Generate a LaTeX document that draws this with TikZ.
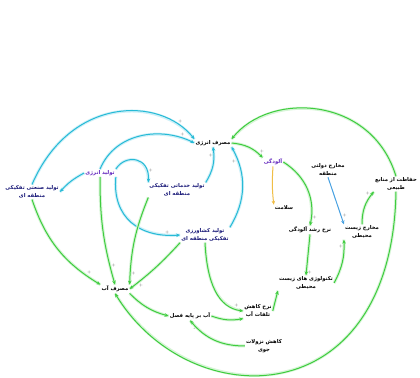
\documentclass[tikz,border=0pt]{standalone}
\usepackage{fontspec}
\usepackage{xcolor}
\usetikzlibrary{arrows.meta}
\newfontfamily\arabicfont[Script=Arabic]{DejaVu Sans}
\TeXXeTstate=1
\newcommand{\fa}[1]{{\arabicfont\beginR #1\endR}}
\definecolor{cyanln}{RGB}{38,186,214}
\definecolor{cyanhalo}{RGB}{205,240,248}
\definecolor{greenln}{RGB}{62,204,62}
\definecolor{greenhalo}{RGB}{214,245,214}
\definecolor{blueln}{RGB}{70,160,225}
\definecolor{orangeln}{RGB}{240,190,70}
\definecolor{navyt}{RGB}{25,25,120}
\definecolor{purplet}{RGB}{100,40,190}
\begin{document}
\begin{tikzpicture}[x=1bp,y=1bp,
  lbl/.style={font=\fontsize{5.3}{8}\selectfont\bfseries,align=center,inner sep=1pt},
  sgn/.style={pos=0.86,auto,font=\fontsize{4}{4}\selectfont,inner sep=0.5pt,text=black!70},
  cy/.style={draw=cyanln,line width=1bp,-{Stealth[length=4bp,width=3.5bp]},
    preaction={draw=cyanhalo,line width=3bp,-}},
  gr/.style={draw=greenln,line width=1bp,-{Stealth[length=4bp,width=3.5bp]},
    preaction={draw=greenhalo,line width=3bp,-}},
  bl/.style={draw=blueln,line width=1bp,-{Stealth[length=4bp,width=3.5bp]}},
  og/.style={draw=orangeln,line width=1bp,-{Stealth[length=4bp,width=3.5bp]}}]
\useasboundingbox[fill=white] (0,0) rectangle (420,378);
\draw (32,186) node[lbl,text=navyt](ind) {\fa{تولید صنعتی تفکیکی}\\\fa{منطقه ای}};
\draw (100,205) node[lbl,text=purplet](ep) {\fa{تولید انرژی}};
\draw (213,235) node[lbl](ec) {\fa{مصرف انرژی}};
\draw (177,188) node[lbl,text=navyt](srv) {\fa{تولید خدماتی تفکیکی}\\\fa{منطقه ای}};
\draw (205,143) node[lbl,text=navyt](agr) {\fa{تولید کشاورزی}\\\fa{تفکیکی منطقه ای}};
\draw (273,216) node[lbl,text=purplet](pol) {\fa{آلودگی}};
\draw (284,170) node[lbl](hlth) {\fa{سلامت}};
\draw (328,208) node[lbl](gov) {\fa{مخارج دولتی}\\\fa{منطقه}};
\draw (396,194) node[lbl](prot) {\fa{حفاظت از منابع}\\\fa{طبیعی}};
\draw (310,148) node[lbl](pgr) {\fa{نرخ رشد آلودگی}};
\draw (362,146) node[lbl](envx) {\fa{مخارج زیست}\\\fa{محیطی}};
\draw (306,95) node[lbl](tech) {\fa{تکنولوژی های زیست}\\\fa{محیطی}};
\draw (258,67) node[lbl](wlr) {\fa{نرخ کاهش}\\\fa{تلفات آب}};
\draw (264,32) node[lbl](prec) {\fa{کاهش نزولات}\\\fa{جوی}};
\draw (115,89) node[lbl](wc) {\fa{مصرف آب}};
\draw (190,62) node[lbl](sw) {\fa{آب بر پایه فصل}};
\draw[cy] (ind.north) .. controls (70,282) and (160,282) .. (ec.north west) node[sgn]{+};
\draw[cy] (ep.north) .. controls (115,245) and (160,252) .. (ec.west) node[sgn]{+};
\draw[cy] (ep.north east) .. controls (125,224) and (150,222) .. (srv.north west) node[sgn]{+};
\draw[cy] (ep.west) to[bend right=10] (ind.east);
\draw[cy] (ep.south east) .. controls (112,160) and (140,140) .. (agr.west) node[sgn]{+};
\draw[cy] (srv.north east) to[bend right=20] node[sgn]{+} (ec.south);
\draw[cy] (agr.north east) to[bend right=30] node[sgn]{+} (ec.south east);
\draw[gr] (prot.north) .. controls (372,282) and (270,287) .. (ec.north east);
\draw[gr] (ec.east) to[bend left=20] node[sgn]{+} (pol.north west);
\draw[og] (pol.south) to[bend right=5] (hlth.north west);
\draw[gr] (pol.east) to[bend left=35] node[sgn]{+} (pgr.north);
\draw[gr] (pgr.south) -- node[sgn]{+} (tech.north);
\draw[bl] (gov.south) -- node[sgn]{+} (envx.north west);
\draw[gr] (envx.north) to[bend left=20] node[sgn]{+} (prot.south west);
\draw[gr] (wlr.east) -- (tech.south west);
\draw[gr] (tech.east) to[bend right=15] node[sgn]{+} (envx.south west);
\draw[gr] (agr.south) .. controls (207,95) and (218,70) .. (wlr.west) node[sgn]{+};
\draw[gr] (sw.east) to[bend right=15] (wlr.south west);
\draw[gr] (prec.west) to[bend left=25] node[sgn]{-} (sw.south);
\draw[gr] (wc.south east) to[bend right=15] (sw.west);
\draw[gr] (prot.south) .. controls (392,-38) and (190,-38) .. (wc.south);
\draw[gr] (ind.south) to[bend right=20] node[sgn]{+} (wc.north west);
\draw[gr] (ep.south) to[bend right=8] node[sgn]{+} (wc.north);
\draw[gr] (srv.south west) to[bend right=10] node[sgn]{+} (wc.north east);
\draw[gr] (agr.south west) to[bend left=5] node[sgn]{+} (wc.east);
\end{tikzpicture}
\end{document}
